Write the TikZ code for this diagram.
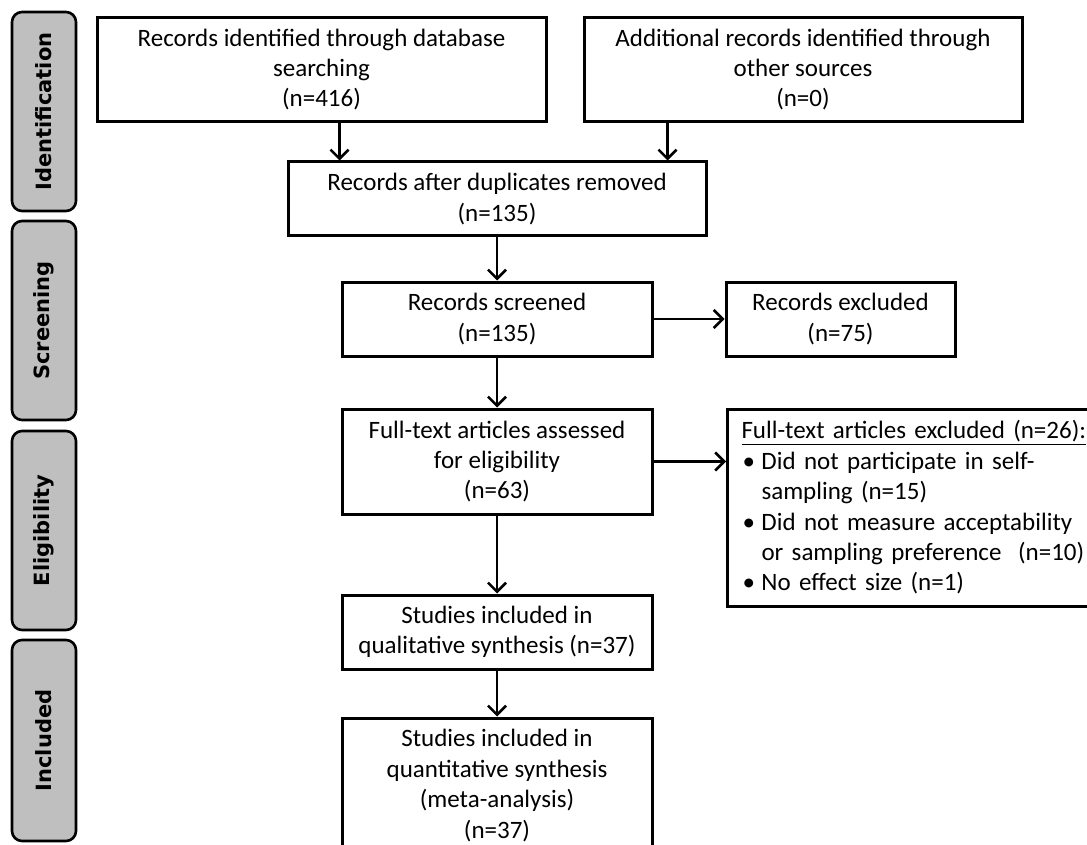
\documentclass[tikz,border=0pt]{standalone}
\usepackage{fontspec}
\setmainfont{Carlito}
\newfontfamily\labelfont{DejaVu Sans}
\usetikzlibrary{arrows.meta}
\tikzset{
  box/.style={draw=black, line width=3pt, fill=white, inner sep=0pt, align=center,
    font=\fontsize{25}{30.4}\selectfont},
  stage/.style={draw=black, line width=2.6pt, fill=black!25, rounded corners=10pt,
    inner sep=0pt, rotate=90, minimum height=64pt,
    font=\labelfont\bfseries\fontsize{21}{25}\selectfont},
  arr/.style={line width=2.6pt, -{Straight Barb[length=9pt,width=18pt,line width=2.6pt]}}
}
\newcommand\bul{\makebox[20pt][l]{\hspace*{1pt}•}}
\newcommand\ind{\hspace*{20pt}}
\begin{document}
\begin{tikzpicture}[x=1pt,y=-1pt]
\path[use as bounding box, clip] (0,0) rectangle (1087,845);
\fill[white] (0,0) rectangle (1087,845);
% stage labels
\node[stage, minimum width=199pt] (lid) at (44,111.5) {Identification};
\node[stage, minimum width=199pt] (lsc) at (44,320.5) {Screening};
\node[stage, minimum width=199pt] (lel) at (44,530.5) {Eligibility};
\node[stage, minimum width=201pt] (lin) at (44,740.5) {Included};
% boxes
\node[box, minimum width=449pt, minimum height=104pt] (b1) at (321.5,69.5)
  {Records identified through database\\searching\\(n=416)};
\node[box, minimum width=438pt, minimum height=104pt] (b2) at (803,69.5)
  {Additional records identified through\\other sources\\(n=0)};
\node[box, minimum width=418pt, minimum height=74pt] (b3) at (497,199)
  {Records after duplicates removed\\(n=135)};
\node[box, minimum width=310pt, minimum height=74pt] (b4) at (497,319)
  {Records screened\\(n=135)};
\node[box, minimum width=229pt, minimum height=74pt] (b5) at (840.5,319)
  {Records excluded\\(n=75)};
\node[box, minimum width=310pt, minimum height=105pt] (b6) at (497,461.5)
  {Full-text articles assessed\\for eligibility\\(n=63)};
\node[box, anchor=west, align=left, text width=352pt, inner xsep=14pt,
  minimum height=197pt] (b7) at (726,507.5)
  {\underline{Full-text articles excluded (n=26):}\\
   \bul Did not participate in self-\\
   \ind sampling (n=15)\\
   \bul Did not measure acceptability\\
   \ind or sampling preference\ \ (n=10)\\
   \bul No effect size (n=1)};
\node[box, minimum width=310pt, minimum height=74pt] (b8) at (497,632)
  {Studies included in\\qualitative synthesis (n=37)};
\node[box, minimum width=310pt, minimum height=135pt] (b9) at (497,785.5)
  {Studies included in\\quantitative synthesis\\(meta-analysis)\\(n=37)};
% connectors
\draw[arr] ([xshift=244pt]b1.south west) -- ([xshift=244pt]b1.south west |- b3.north);
\draw[arr] ([xshift=85pt]b2.south west) -- ([xshift=85pt]b2.south west |- b3.north);
\draw[arr] (b3.south) -- (b4.north);
\draw[arr] (b4.east) -- (b5.west);
\draw[arr] (b4.south) -- (b6.north);
\draw[arr] (b6.east) -- (b6.east -| b7.west);
\draw[arr] (b6.south) -- (b8.north);
\draw[arr] (b8.south) -- (b9.north);
\end{tikzpicture}
\end{document}
